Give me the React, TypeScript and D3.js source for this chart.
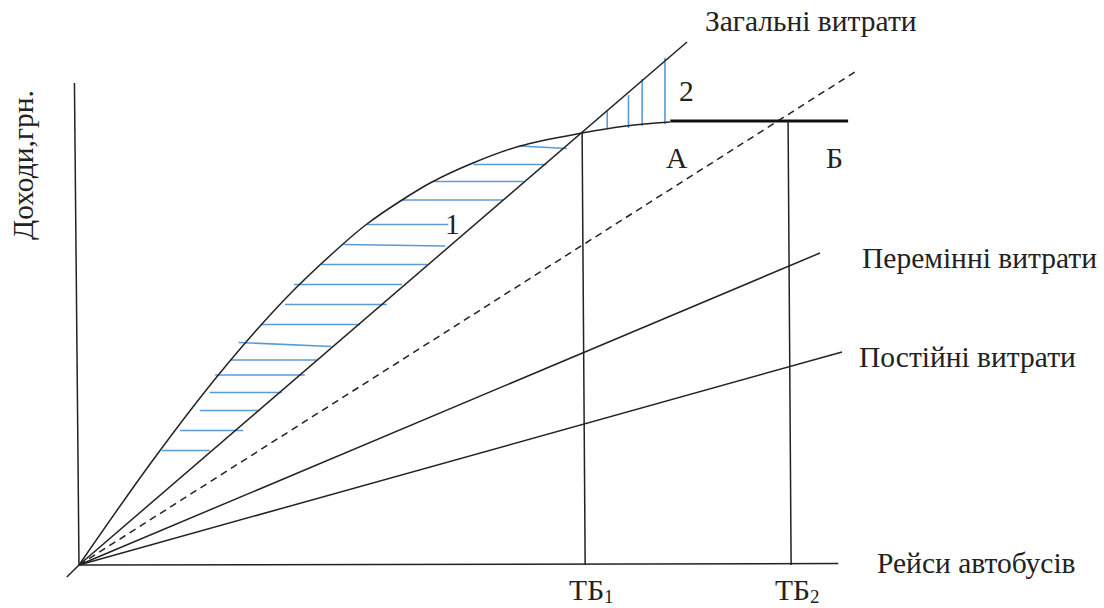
import React from "react";
import * as d3 from "d3";

const W = 1104;
const H = 608;

// Revenue curve (доходи) in chart units
const revenueX = [0, 9.74, 18.55, 27.37, 34.74, 37.89, 42.5, 46.45, 51.84, 58.03, 66.2, 71.97, 77.76];
const revenueY = [0, 21, 38.4, 53.6, 64.2, 68.2, 73, 76.6, 80.4, 83.8, 86.4, 87.8, 88.6];

// Straight lines from the origin: end points [x, y]
const totalCostEnd = [80, 104.6];
const breakEvenEnd = [102.1, 98.6];
const variableCostEnd = [97.5, 62.4];
const fixedCostEnd = [100.4, 42.6];

// Saturation level (thick line)
const saturationLevel = 88.8;
const saturationRange = [77.8, 101.2];

// Break-even points on the x axis
const breakEvenX = [66.2, 93.3];
const breakEvenTop = [86.4, 88.8];
const breakEvenSub = ["1", "2"];

// Hatch of area 1 (horizontal strokes): left/right x and y at each end
const hatch1X0 = [10.9, 13.3, 15.9, 17.2, 17.9, 19.9, 21, 23.9, 27.1, 28.3, 31.9, 34.8, 37.9, 42.5, 46.5, 51.9, 58];
const hatch1X1 = [17.2, 21.6, 23.8, 26.7, 29.7, 31.3, 33.2, 37, 40.5, 42.5, 45.8, 48.2, 48.6, 55.8, 58.5, 61.5, 64.2];
const hatch1Y0 = [22.9, 26.9, 30.9, 34.5, 38, 41, 44.5, 48.1, 52.1, 56.1, 60.1, 64.1, 68.1, 73, 76.7, 80.1, 83.8];
const hatch1Y1 = [22.9, 26.9, 30.9, 34.5, 38, 41, 43.7, 48.1, 52.1, 56.1, 60.1, 63.8, 68.1, 73, 76.7, 80.1, 83.3];

// Hatch of area 2 (vertical strokes)
const hatch2X = [69.5, 72.3, 74.1, 77.1];
const hatch2Y0 = [87.4, 87.4, 87.8, 88.2];
const hatch2Y1 = [91, 94, 97.2, 101.4];

const yAxisTop = 96.4;
const xAxisEnd = 99.9;

const FONT = "'Liberation Serif', 'Times New Roman', serif";
const INK = "#222";
const BLUE = "#5b9bd5";

export default function App() {
  const x = d3.scaleLinear().domain([0, 100]).range([79, 839]);
  const y = d3.scaleLinear().domain([0, 100]).range([565, 65]);

  const revenuePts: [number, number][] = revenueX.map((v, i) => [v, revenueY[i]]);
  const curve = d3
    .line<[number, number]>()
    .x((d) => x(d[0]))
    .y((d) => y(d[1]))
    .curve(d3.curveCatmullRom.alpha(0.5));

  const ray = (end: number[]) => `M${x(0)},${y(0)}L${x(end[0])},${y(end[1])}`;

  const fs = 29.5;

  return (
    <div style={{ position: "absolute", left: 0, top: 0, width: W, height: H, background: "#fff" }}>
      <svg width={W} height={H} viewBox={`0 0 ${W} ${H}`} style={{ display: "block" }}>
        <rect width={W} height={H} fill="#fff" />
        {/* hatch area 1 */}
        {hatch1X0.map((v, i) => (
          <line
            key={"h1" + i}
            x1={x(v)}
            y1={y(hatch1Y0[i])}
            x2={x(hatch1X1[i])}
            y2={y(hatch1Y1[i])}
            stroke={BLUE}
            strokeWidth={1.6}
          />
        ))}
        {/* hatch area 2 */}
        {hatch2X.map((v, i) => (
          <line
            key={"h2" + i}
            x1={x(v)}
            y1={y(hatch2Y0[i])}
            x2={x(v)}
            y2={y(hatch2Y1[i])}
            stroke={BLUE}
            strokeWidth={1.6}
          />
        ))}

        {/* axes */}
        <line x1={x(-0.6)} y1={y(yAxisTop)} x2={x(0)} y2={y(0)} stroke={INK} strokeWidth={1.5} />
        <line x1={x(0)} y1={y(0)} x2={x(xAxisEnd)} y2={y(0.3)} stroke={INK} strokeWidth={1.5} />
        <line x1={x(0)} y1={y(0)} x2={x(-1.6)} y2={y(-2.4)} stroke={INK} strokeWidth={1.5} />

        {/* lines from origin */}
        <path d={ray(totalCostEnd)} stroke={INK} strokeWidth={1.5} fill="none" />
        <path d={ray(breakEvenEnd)} stroke={INK} strokeWidth={1.5} fill="none" strokeDasharray="7,5" />
        <path d={ray(variableCostEnd)} stroke={INK} strokeWidth={1.5} fill="none" />
        <path d={ray(fixedCostEnd)} stroke={INK} strokeWidth={1.5} fill="none" />

        {/* revenue curve */}
        <path d={curve(revenuePts) || ""} stroke={INK} strokeWidth={1.5} fill="none" />
        <line
          x1={x(saturationRange[0])}
          y1={y(saturationLevel)}
          x2={x(saturationRange[1])}
          y2={y(saturationLevel)}
          stroke="#111"
          strokeWidth={3}
        />

        {/* break-even verticals */}
        {breakEvenX.map((v, i) => (
          <line
            key={"tb" + i}
            x1={x(v)}
            y1={y(breakEvenTop[i])}
            x2={x(v + 0.4)}
            y2={y(0)}
            stroke={INK}
            strokeWidth={1.5}
          />
        ))}

        {/* labels */}
        <g fontFamily={FONT} fontSize={fs} fill={INK}>
          <text x={705} y={31}>Загальні витрати</text>
          <text x={862} y={268}>Перемінні витрати</text>
          <text x={859} y={367}>Постійні витрати</text>
          <text x={877} y={573}>Рейси автобусів</text>
          <text transform="translate(33,165) rotate(-90)" textAnchor="middle">Доходи,грн.</text>
          <text x={445} y={234}>1</text>
          <text x={679} y={101}>2</text>
          <text x={666} y={168}>А</text>
          <text x={826} y={168}>Б</text>
          {breakEvenX.map((v, i) => (
            <text key={"tbl" + i} x={x(v) - 13} y={600}>
              ТБ
              <tspan fontSize={19} dy={3}>{breakEvenSub[i]}</tspan>
            </text>
          ))}
        </g>
      </svg>
    </div>
  );
}
